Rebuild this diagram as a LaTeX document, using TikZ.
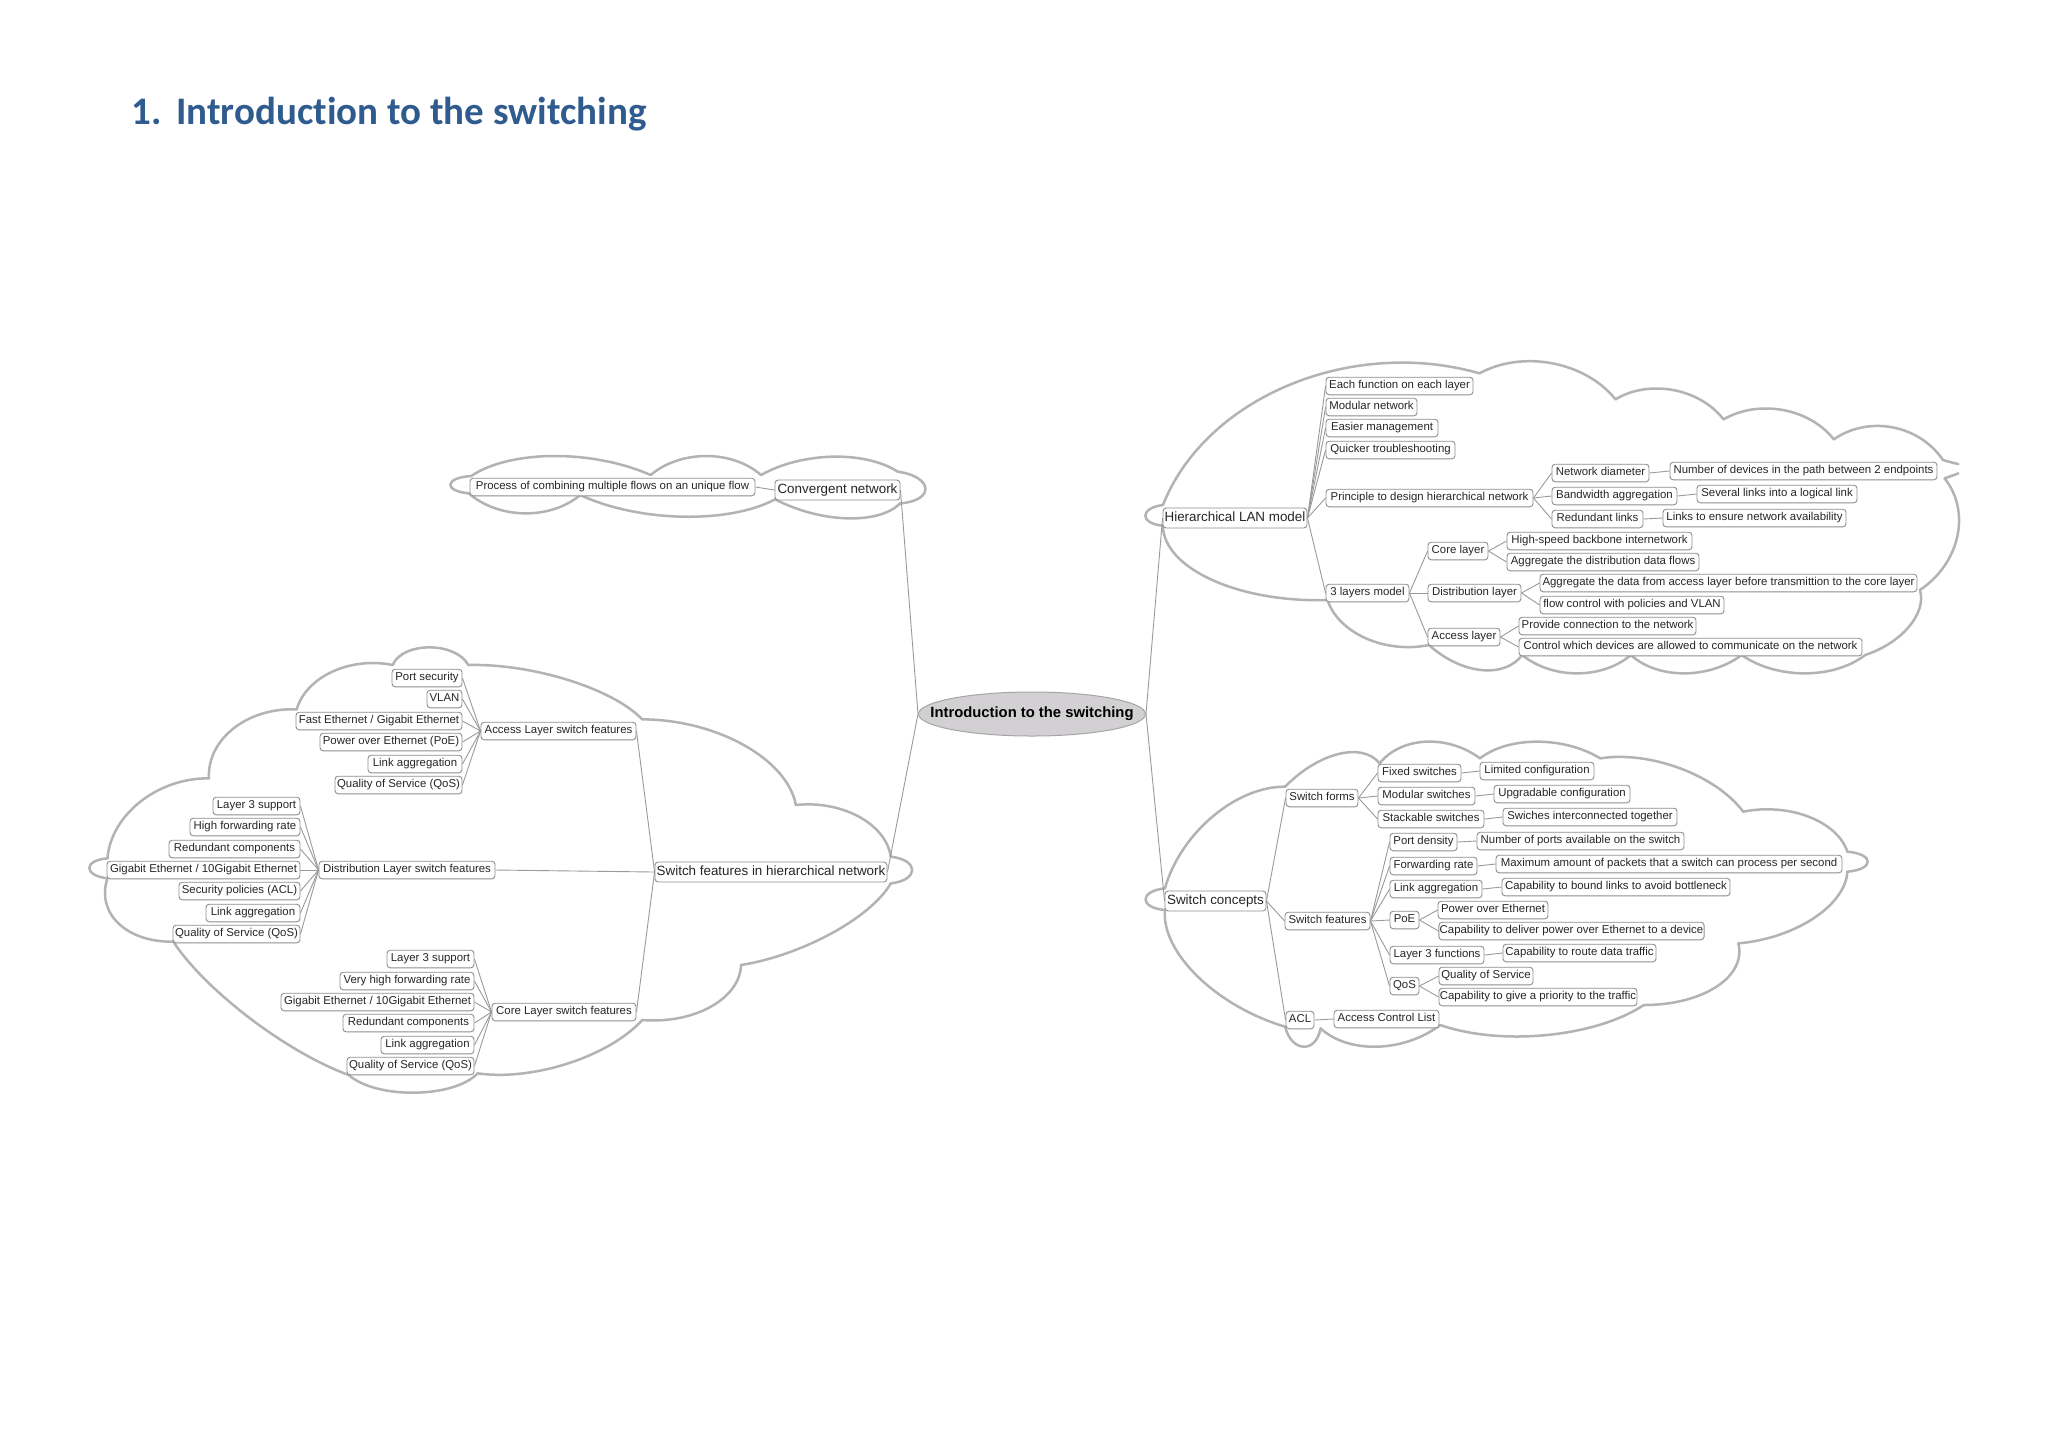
\documentclass[tikz,border=0pt]{standalone}
\usepackage{fontspec}
\setmainfont{Liberation Sans}
\newfontfamily\titlefont[Ligatures=NoCommon]{Carlito}
\usetikzlibrary{backgrounds,shapes.geometric}
\definecolor{cloudgray}{HTML}{B4B2B4}
\definecolor{linkgray}{HTML}{9A9A9A}
\definecolor{boxgray}{HTML}{8E8E8E}
\definecolor{titleblue}{HTML}{2F5B8E}
\definecolor{centerfill}{HTML}{D2D0D2}
\tikzset{
  mmbox/.style={draw=boxgray,fill=white,line width=.45pt,rounded corners=1.6pt,inner xsep=.4pt,inner ysep=0pt,text=black!85},
  mmleaf/.style={mmbox,minimum height=8.8pt,text height=4.2pt,text depth=1.3pt,font=\fontsize{5.7pt}{6.5pt}\selectfont},
  mmbig/.style={mmbox,minimum height=10pt,text height=4.9pt,text depth=1.5pt,font=\fontsize{6.7pt}{7.5pt}\selectfont},
  mmcloud/.style={draw=cloudgray,line width=1.25pt,line cap=round,line join=round},
  mmlink/.style={draw=linkgray,line width=.45pt}
}
\newcommand{\nd}[6]{\pgfmathsetmacro\ndw{(#4-#3)*0.5}\pgfmathsetmacro\ndc{(#3+#4)/2}\pgfmathsetmacro\ndy{#5+2}\node[#1,minimum width=\ndw pt] (#2) at (\ndc,\ndy) {#6};}
\newcommand{\lk}[2]{\draw[mmlink] (#1.east) -- (#2.west);}
\newcommand{\rk}[2]{\draw[mmlink] (#1.west) -- (#2.east);}
% one cloud scallop: from A through M to B
\newcommand{\bu}[7][.27]{%
 \pgfmathsetmacro\hx{4/3*(#4-(#2+#6)/2)}\pgfmathsetmacro\hy{4/3*(#5-(#3+#7)/2)}%
 \pgfmathsetmacro\ax{#2+\hx+#1*(#6-#2)}\pgfmathsetmacro\ay{#3+\hy+#1*(#7-#3)}%
 \pgfmathsetmacro\bx{#6+\hx-#1*(#6-#2)}\pgfmathsetmacro\by{#7+\hy-#1*(#7-#3)}%
 \draw[mmcloud] (#2,#3) .. controls (\ax,\ay) and (\bx,\by) .. (#6,#7);}
\begin{document}
\begin{tikzpicture}[x=.5pt,y=-.5pt]
\useasboundingbox (0,0) rectangle (2048,1447);
\node[anchor=base west,text=titleblue,inner sep=0pt,font=\titlefont\bfseries\fontsize{19.5pt}{22pt}\selectfont] (title) at (131,124) {1.\hspace{.38em}Introduction to the switching};
% centre
\node[draw=boxgray!80,fill=centerfill,ellipse,line width=.5pt,inner sep=0pt,minimum width=113.5pt,minimum height=22pt,font=\bfseries\fontsize{7.4pt}{9pt}\selectfont] (c) at (1032,714) {\makebox[0pt][c]{\raisebox{-.5pt}{Introduction to the switching}}};
% convergent
\nd{mmbig}{conv}{775}{900}{488}{Convergent network}
\nd{mmleaf}{proc}{470}{755}{485}{Process of combining multiple flows on an unique flow}
% hierarchical
\nd{mmbig}{hier}{1163}{1307}{516}{Hierarchical LAN model}
\nd{mmleaf}{h1}{1326}{1473}{384}{Each function on each layer}
\nd{mmleaf}{h2}{1326}{1417}{405}{Modular network}
\nd{mmleaf}{h3}{1326}{1438}{426}{Easier management}
\nd{mmleaf}{h4}{1326}{1455}{448}{Quicker troubleshooting}
\nd{mmleaf}{h5}{1326}{1533}{496}{Principle to design hierarchical network}
\nd{mmleaf}{h51}{1552}{1649}{471}{Network diameter}
\nd{mmleaf}{h51a}{1670}{1937}{469}{Number of devices in the path between 2 endpoints}
\nd{mmleaf}{h52}{1552}{1677}{494}{Bandwidth aggregation}
\nd{mmleaf}{h52a}{1697}{1857}{492}{Several links into a logical link}
\nd{mmleaf}{h53}{1552}{1643}{517}{Redundant links}
\nd{mmleaf}{h53a}{1663}{1846}{516}{Links to ensure network availability}
\nd{mmleaf}{h6}{1326}{1409}{591}{3 layers model}
\nd{mmleaf}{h61}{1428}{1488}{549}{Core layer}
\nd{mmleaf}{h61a}{1507}{1692}{539}{High-speed backbone internetwork}
\nd{mmleaf}{h61b}{1507}{1699}{560}{Aggregate the distribution data flows}
\nd{mmleaf}{h62}{1428}{1521}{591}{Distribution layer}
\nd{mmleaf}{h62a}{1540}{1917}{581}{Aggregate the data from access layer before transmittion to the core layer}
\nd{mmleaf}{h62b}{1540}{1724}{603}{flow control with policies and VLAN}
\nd{mmleaf}{h63}{1428}{1500}{635}{Access layer}
\nd{mmleaf}{h63a}{1519}{1696}{624}{Provide connection to the network}
\nd{mmleaf}{h63b}{1519}{1862}{645}{Control which devices are allowed to communicate on the network}
% switch concepts
\nd{mmbig}{sc}{1165}{1266}{899}{Switch concepts}
\nd{mmleaf}{s1}{1286}{1358}{796}{Switch forms}
\nd{mmleaf}{s11}{1378}{1461}{771}{Fixed switches}
\nd{mmleaf}{s11a}{1480}{1594}{769}{Limited configuration}
\nd{mmleaf}{s12}{1378}{1475}{794}{Modular switches}
\nd{mmleaf}{s12a}{1494}{1630}{792}{Upgradable configuration}
\nd{mmleaf}{s13}{1378}{1484}{817}{Stackable switches}
\nd{mmleaf}{s13a}{1503}{1677}{815}{Swiches interconnected together}
\nd{mmleaf}{s2}{1285}{1370}{919}{Switch features}
\nd{mmleaf}{s21}{1390}{1457}{840}{Port density}
\nd{mmleaf}{s21a}{1477}{1684}{839}{Number of ports available on the switch}
\nd{mmleaf}{s22}{1390}{1477}{864}{Forwarding rate}
\nd{mmleaf}{s22a}{1496}{1842}{862}{Maximum amount of packets that a switch can process per second}
\nd{mmleaf}{s23}{1390}{1482}{887}{Link aggregation}
\nd{mmleaf}{s23a}{1502}{1730}{885}{Capability to bound links to avoid bottleneck}
\nd{mmleaf}{s24}{1390}{1419}{918}{PoE}
\nd{mmleaf}{s24a}{1438}{1548}{908}{Power over Ethernet}
\nd{mmleaf}{s24b}{1439}{1704}{929}{Capability to deliver power over Ethernet to a device}
\nd{mmleaf}{s25}{1390}{1484}{953}{Layer 3 functions}
\nd{mmleaf}{s25a}{1503}{1656}{951}{Capability to route data traffic}
\nd{mmleaf}{s26}{1390}{1419}{984}{QoS}
\nd{mmleaf}{s26a}{1439}{1533}{974}{Quality of Service}
\nd{mmleaf}{s26b}{1439}{1637}{995}{Capability to give a priority to the traffic}
\nd{mmleaf}{s3}{1286}{1314}{1018}{ACL}
\nd{mmleaf}{s3a}{1334}{1439}{1017}{Access Control List}
% switch features
\nd{mmbig}{sf}{655}{887}{870}{Switch features in hierarchical network}
\nd{mmleaf}{a}{481}{636}{729}{Access Layer switch features}
\nd{mmleaf}{a1}{392}{462}{676}{Port security}
\nd{mmleaf}{a2}{427}{462}{697}{VLAN}
\nd{mmleaf}{a3}{296}{462}{719}{Fast Ethernet / Gigabit Ethernet}
\nd{mmleaf}{a4}{320}{462}{740}{Power over Ethernet (PoE)}
\nd{mmleaf}{a5}{368}{462}{762}{Link aggregation}
\nd{mmleaf}{a6}{335}{462}{783}{Quality of Service (QoS)}
\nd{mmleaf}{d}{319}{495}{868}{Distribution Layer switch features}
\nd{mmleaf}{d1}{213}{300}{804}{Layer 3 support}
\nd{mmleaf}{d2}{190}{300}{825}{High forwarding rate}
\nd{mmleaf}{d3}{169}{300}{847}{Redundant components}
\nd{mmleaf}{d4}{107}{300}{868}{Gigabit Ethernet / 10Gigabit Ethernet}
\nd{mmleaf}{d5}{179}{300}{889}{Security policies (ACL)}
\nd{mmleaf}{d6}{206}{300}{911}{Link aggregation}
\nd{mmleaf}{d7}{173}{300}{932}{Quality of Service (QoS)}
\nd{mmleaf}{e}{492}{636}{1010}{Core Layer switch features}
\nd{mmleaf}{e1}{387}{474}{957}{Layer 3 support}
\nd{mmleaf}{e2}{340}{474}{979}{Very high forwarding rate}
\nd{mmleaf}{e3}{281}{474}{1000}{Gigabit Ethernet / 10Gigabit Ethernet}
\nd{mmleaf}{e4}{343}{474}{1021}{Redundant components}
\nd{mmleaf}{e5}{381}{474}{1043}{Link aggregation}
\nd{mmleaf}{e6}{347}{474}{1064}{Quality of Service (QoS)}
\begin{scope}[on background layer]
\fill[white] (0,0) rectangle (2048,1447);
% cloud: convergent
\begin{scope}[x=.24235pt,y=-.16667pt,xshift=215pt,yshift=-220pt]
\bu{85}{108}{255}{48}{455}{105}
\bu{455}{105}{570}{48}{683}{105}
\bu{683}{105}{830}{50}{965}{95}
\bu[.12]{965}{95}{1022}{145}{970}{190}
\bu{970}{190}{860}{235}{712}{178}
\bu{712}{178}{520}{230}{310}{165}
\bu{310}{165}{195}{220}{80}{160}
\bu[.12]{80}{160}{42}{133}{85}{108}
\end{scope}
% cloud: hierarchical
\begin{scope}[x=.27427pt,y=-.16667pt,xshift=565pt,yshift=-170pt]
\bu[.12]{60}{495}{28}{527}{60}{557}
\bu{60}{495}{290}{135}{637}{100}
\bu{637}{100}{770}{70}{885}{178}
\bu{885}{178}{990}{150}{1082}{238}
\bu{1082}{238}{1190}{210}{1283}{298}
\bu{1283}{298}{1390}{262}{1482}{360}
\bu[.3]{1482}{360}{1497}{367}{1510}{372}
\bu[.3]{1510}{400}{1497}{408}{1485}{415}
\bu{1485}{415}{1508}{590}{1440}{750}
\bu{1440}{750}{1420}{860}{1340}{945}
\bu{1340}{945}{1230}{1000}{1115}{945}
\bu{1115}{945}{1010}{1000}{913}{945}
\bu{913}{945}{815}{1000}{715}{945}
\bu{715}{945}{640}{990}{545}{915}
\bu{545}{915}{430}{895}{360}{780}
\bu{360}{780}{150}{720}{60}{557}
\end{scope}
% cloud: switch concepts
\begin{scope}[x=.24235pt,y=-.16667pt,xshift=565pt,yshift=-365pt]
\bu{72}{475}{170}{260}{320}{170}
\bu{320}{170}{430}{72}{515}{100}
\bu{515}{100}{610}{35}{722}{85}
\bu{722}{85}{840}{35}{970}{85}
\bu{970}{85}{1135}{115}{1265}{245}
\bu{1265}{245}{1400}{260}{1480}{365}
\bu[.12]{1480}{365}{1522}{395}{1480}{425}
\bu{1480}{425}{1410}{565}{1255}{640}
\bu{1255}{640}{1210}{770}{1060}{825}
\bu{1060}{825}{860}{915}{640}{885}
\bu{640}{885}{510}{950}{393}{895}
\bu[.15]{393}{895}{358}{950}{320}{890}
\bu{320}{890}{140}{740}{72}{540}
\bu[.12]{72}{540}{32}{508}{72}{475}
\end{scope}
% cloud: switch features
\begin{scope}[x=.27427pt,y=-.16667pt,xshift=40pt,yshift=-315pt]
\bu[.12]{50}{685}{17}{714}{50}{745}
\bu{50}{685}{110}{515}{235}{445}
\bu{235}{445}{280}{295}{395}{238}
\bu{395}{238}{460}{125}{570}{105}
\bu[.15]{570}{105}{637}{52}{708}{105}
\bu{708}{105}{890}{150}{1025}{268}
\bu{1025}{268}{1210}{345}{1305}{525}
\bu{1305}{525}{1420}{560}{1478}{680}
\bu[.12]{1478}{680}{1517}{720}{1478}{760}
\bu{1478}{760}{1370}{910}{1205}{1005}
\bu{1205}{1005}{1150}{1130}{1025}{1170}
\bu{1025}{1170}{890}{1300}{725}{1330}
\bu[.2]{725}{1330}{610}{1388}{490}{1335}
\bu{490}{1335}{310}{1165}{170}{935}
\bu{170}{935}{70}{880}{50}{745}
\end{scope}
% connectors
\rk{c}{conv}\rk{c}{sf}\lk{c}{hier}\lk{c}{sc}
\rk{conv}{proc}
\foreach \k in {h1,h2,h3,h4,h5,h6}{\lk{hier}{\k}}
\foreach \k in {h51,h52,h53}{\lk{h5}{\k}}
\lk{h51}{h51a}\lk{h52}{h52a}\lk{h53}{h53a}
\foreach \k in {h61,h62,h63}{\lk{h6}{\k}}
\lk{h61}{h61a}\lk{h61}{h61b}\lk{h62}{h62a}\lk{h62}{h62b}\lk{h63}{h63a}\lk{h63}{h63b}
\foreach \k in {s1,s2,s3}{\lk{sc}{\k}}
\foreach \k in {s11,s12,s13}{\lk{s1}{\k}}
\lk{s11}{s11a}\lk{s12}{s12a}\lk{s13}{s13a}
\foreach \k in {s21,s22,s23,s24,s25,s26}{\lk{s2}{\k}}
\lk{s21}{s21a}\lk{s22}{s22a}\lk{s23}{s23a}\lk{s24}{s24a}\lk{s24}{s24b}\lk{s25}{s25a}\lk{s26}{s26a}\lk{s26}{s26b}
\lk{s3}{s3a}
\foreach \k in {a,d,e}{\rk{sf}{\k}}
\foreach \k in {a1,a2,a3,a4,a5,a6}{\rk{a}{\k}}
\foreach \k in {d1,d2,d3,d4,d5,d6,d7}{\rk{d}{\k}}
\foreach \k in {e1,e2,e3,e4,e5,e6}{\rk{e}{\k}}
\end{scope}
\end{tikzpicture}
\end{document}
